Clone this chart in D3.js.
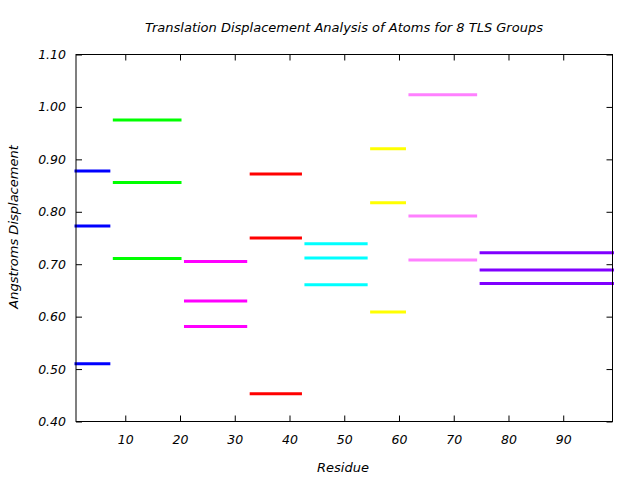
<!DOCTYPE html>
<html>
<head>
<meta charset="utf-8">
<script src="https://cdn.jsdelivr.net/npm/d3@7"></script>
<style>
  body { margin: 0; background: #fff; }
  text { font-family: "DejaVu Sans", sans-serif; font-style: italic; fill: #000; }
</style>
</head>
<body>
<svg id="chart" width="640" height="480"></svg>
<script>
// TLS group residue ranges
const groupStart = [1, 8, 21, 33, 43, 55, 62, 75];
const groupEnd   = [7, 20, 32, 42, 54, 61, 74, 99];
const groupColors = ["#0000ff", "#00ff00", "#ff00ff", "#ff0000", "#00ffff", "#ffff00", "#ff80ff", "#8000ff"];
// Three displacement values per group (Angstroms)
const displacements = [
  [0.878, 0.773, 0.510],
  [0.975, 0.856, 0.711],
  [0.705, 0.630, 0.581],
  [0.872, 0.750, 0.453],
  [0.739, 0.712, 0.661],
  [0.920, 0.817, 0.609],
  [1.023, 0.792, 0.708],
  [0.722, 0.689, 0.663]
];
const xTicks = [10, 20, 30, 40, 50, 60, 70, 80, 90];
const yTicks = [0.40, 0.50, 0.60, 0.70, 0.80, 0.90, 1.00, 1.10];

const svg = d3.select("#chart");
const L = 76, R = 612.5, T = 54.5, B = 421.5;
const x = d3.scaleLinear().domain([1, 99]).range([L, R]);
const y = d3.scaleLinear().domain([0.40, 1.10]).range([B, T]);

// segments
const segs = [];
displacements.forEach((vals, g) => vals.forEach(v => segs.push({g, v})));
svg.append("g").selectAll("line").data(segs).join("line")
  .attr("x1", d => x(groupStart[d.g]))
  .attr("x2", d => x(groupEnd[d.g]))
  .attr("y1", d => y(d.v))
  .attr("y2", d => y(d.v))
  .attr("stroke", d => groupColors[d.g])
  .attr("stroke-width", 3)
  .attr("stroke-linecap", "square");

const tickSize = 6;
const fs = "12.5px";
// axes
const ax = svg.append("g").attr("stroke", "#000").attr("stroke-width", 1).attr("fill", "none");
ax.append("rect").attr("x", L).attr("y", T).attr("width", R - L).attr("height", B - T);

svg.append("g").attr("transform", `translate(0,${B})`)
  .call(d3.axisBottom(x).tickValues(xTicks).tickSize(-tickSize).tickPadding(14).tickFormat(d3.format("d")))
  .call(g => { g.select(".domain").remove(); g.selectAll("text").style("font-size", fs).style("font-family", null); });
svg.append("g").attr("transform", `translate(0,${T})`)
  .call(d3.axisTop(x).tickValues(xTicks).tickSize(-tickSize).tickFormat(""))
  .call(g => g.select(".domain").remove());
svg.append("g").attr("transform", `translate(${L},0)`)
  .call(d3.axisLeft(y).tickValues(yTicks).tickSize(-tickSize).tickPadding(10).tickFormat(d3.format(".2f")))
  .call(g => { g.select(".domain").remove(); g.selectAll("text").style("font-size", fs).style("font-family", null); });
svg.append("g").attr("transform", `translate(${R},0)`)
  .call(d3.axisRight(y).tickValues(yTicks).tickSize(-tickSize).tickFormat(""))
  .call(g => g.select(".domain").remove());

svg.selectAll(".tick line").attr("stroke", "#000");

svg.append("text").attr("x", 344).attr("y", 32).attr("text-anchor", "middle")
  .style("font-size", "13px").text("Translation Displacement Analysis of Atoms for 8 TLS Groups");
svg.append("text").attr("x", 343).attr("y", 472).attr("text-anchor", "middle")
  .style("font-size", "13px").text("Residue");
svg.append("text").attr("transform", "translate(18,227) rotate(-90)").attr("text-anchor", "middle")
  .style("font-size", "13px").text("Angstroms Displacement");
</script>
</body>
</html>
